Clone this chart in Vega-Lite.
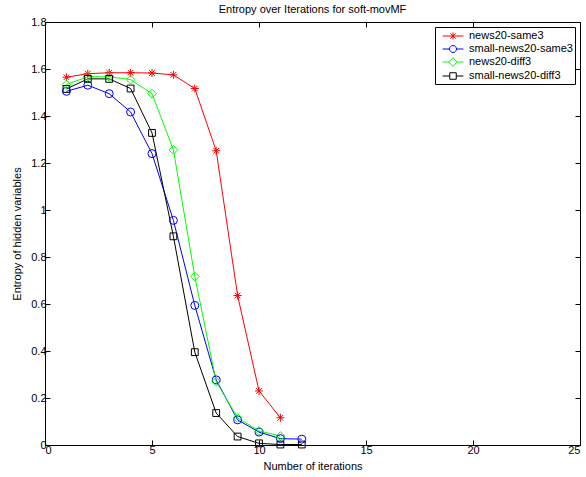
{
  "$schema": "https://vega.github.io/schema/vega-lite/v6.json",
  "width": 535,
  "height": 423,
  "autosize": "none",
  "padding": {"left": 45, "top": 22, "right": 6, "bottom": 32},
  "background": "white",
  "config": {
    "font": "Liberation Sans",
    "view": {"stroke": "black", "strokeWidth": 1},
    "axis": {
      "labelFont": "Liberation Sans", "labelFontSize": 11, "labelColor": "black",
      "titleFont": "Liberation Sans", "titleFontSize": 11, "titleFontWeight": "normal", "titleColor": "black",
      "tickColor": "black", "tickSize": -5, "domain": false, "grid": false
    },
    "legend": {
      "labelFont": "Liberation Sans", "labelFontSize": 11, "labelColor": "black"
    }
  },
  "title": {"text": "Entropy over Iterations for soft-movMF", "fontSize": 11, "fontWeight": "normal", "font": "Liberation Sans", "color": "black", "offset": 6, "dy": 5},
  "data": {"values": [
    {"series": "news20-same3", "x": 1, "y": 1.565},
    {"series": "news20-same3", "x": 2, "y": 1.58},
    {"series": "news20-same3", "x": 3, "y": 1.584},
    {"series": "news20-same3", "x": 4, "y": 1.584},
    {"series": "news20-same3", "x": 5, "y": 1.583},
    {"series": "news20-same3", "x": 6, "y": 1.575},
    {"series": "news20-same3", "x": 7, "y": 1.517},
    {"series": "news20-same3", "x": 8, "y": 1.252},
    {"series": "news20-same3", "x": 9, "y": 0.636},
    {"series": "news20-same3", "x": 10, "y": 0.23},
    {"series": "news20-same3", "x": 11, "y": 0.116},
    {"series": "small-news20-same3", "x": 1, "y": 1.505},
    {"series": "small-news20-same3", "x": 2, "y": 1.531},
    {"series": "small-news20-same3", "x": 3, "y": 1.495},
    {"series": "small-news20-same3", "x": 4, "y": 1.417},
    {"series": "small-news20-same3", "x": 5, "y": 1.24},
    {"series": "small-news20-same3", "x": 6, "y": 0.956},
    {"series": "small-news20-same3", "x": 7, "y": 0.594},
    {"series": "small-news20-same3", "x": 8, "y": 0.277},
    {"series": "small-news20-same3", "x": 9, "y": 0.107},
    {"series": "small-news20-same3", "x": 10, "y": 0.055},
    {"series": "small-news20-same3", "x": 11, "y": 0.027},
    {"series": "small-news20-same3", "x": 12, "y": 0.025},
    {"series": "news20-diff3", "x": 1, "y": 1.534},
    {"series": "news20-diff3", "x": 2, "y": 1.567},
    {"series": "news20-diff3", "x": 3, "y": 1.567},
    {"series": "news20-diff3", "x": 4, "y": 1.555},
    {"series": "news20-diff3", "x": 5, "y": 1.495},
    {"series": "news20-diff3", "x": 6, "y": 1.256},
    {"series": "news20-diff3", "x": 7, "y": 0.717},
    {"series": "news20-diff3", "x": 8, "y": 0.27},
    {"series": "news20-diff3", "x": 9, "y": 0.115},
    {"series": "news20-diff3", "x": 10, "y": 0.06},
    {"series": "news20-diff3", "x": 11, "y": 0.038},
    {"series": "small-news20-diff3", "x": 1, "y": 1.515},
    {"series": "small-news20-diff3", "x": 2, "y": 1.558},
    {"series": "small-news20-diff3", "x": 3, "y": 1.558},
    {"series": "small-news20-diff3", "x": 4, "y": 1.517},
    {"series": "small-news20-diff3", "x": 5, "y": 1.328},
    {"series": "small-news20-diff3", "x": 6, "y": 0.888},
    {"series": "small-news20-diff3", "x": 7, "y": 0.395},
    {"series": "small-news20-diff3", "x": 8, "y": 0.136},
    {"series": "small-news20-diff3", "x": 9, "y": 0.036},
    {"series": "small-news20-diff3", "x": 10, "y": 0.007},
    {"series": "small-news20-diff3", "x": 11, "y": 0.002},
    {"series": "small-news20-diff3", "x": 12, "y": 0.002}
  ]},
  "layer": [
    {
      "mark": {"type": "line", "strokeWidth": 1, "clip": true},
      "encoding": {
        "x": {"field": "x", "type": "quantitative", "scale": {"domain": [0, 25], "nice": false},
              "axis": {"orient": "bottom", "values": [0, 5, 10, 15, 20, 25], "title": "Number of iterations", "labelPadding": 4, "titlePadding": 5}},
        "y": {"field": "y", "type": "quantitative", "scale": {"domain": [0, 1.8], "nice": false},
              "axis": {"orient": "left", "values": [0, 0.2, 0.4, 0.6, 0.8, 1, 1.2, 1.4, 1.6, 1.8], "format": "~g", "title": "Entropy of hidden variables", "labelPadding": 4, "titlePadding": 8}},
        "color": {"field": "series", "type": "nominal",
                  "scale": {"domain": ["news20-same3", "small-news20-same3", "news20-diff3", "small-news20-diff3"], "range": ["#ff0000", "#0000ff", "#00ff00", "#000000"]},
                  "legend": null},
        "detail": {"field": "series"}
      }
    },
    {
      "mark": {"type": "point", "filled": false, "size": 64, "strokeWidth": 1, "opacity": 1},
      "encoding": {
        "x": {"field": "x", "type": "quantitative", "axis": {"orient": "top", "values": [0, 5, 10, 15, 20, 25], "labels": false, "title": null}},
        "y": {"field": "y", "type": "quantitative", "axis": {"orient": "right", "values": [0, 0.2, 0.4, 0.6, 0.8, 1, 1.2, 1.4, 1.6, 1.8], "labels": false, "title": null}},
        "color": {"field": "series", "type": "nominal", "legend": null},
        "shape": {"field": "series", "type": "nominal",
                  "scale": {"domain": ["news20-same3", "small-news20-same3", "news20-diff3", "small-news20-diff3"],
                            "range": ["M-1,0H1M0,-1V1M-0.7,-0.7L0.7,0.7M-0.7,0.7L0.7,-0.7", "circle", "M-1.1,0L0,-1.1L1.1,0L0,1.1Z", "M-0.85,-0.85H0.85V0.85H-0.85Z"]},
                  "legend": null}
      }
    },
    {
      "transform": [{"filter": "datum.y < -1"}],
      "mark": {"type": "point", "filled": false, "size": 169, "strokeWidth": 1, "opacity": 1},
      "encoding": {
        "x": {"field": "x", "type": "quantitative", "axis": null},
        "y": {"field": "y", "type": "quantitative", "axis": null},
        "color": {"field": "series", "type": "nominal",
                  "legend": {"orient": "top-right", "offset": 5, "title": null, "strokeColor": "black", "fillColor": "white", "padding": 2, "rowPadding": 0, "symbolOffset": 9, "labelOffset": 9, "symbolSize": 169, "symbolStrokeWidth": 1, "cornerRadius": 0}},
        "shape": {"field": "series", "type": "nominal",
                  "scale": {"domain": ["news20-same3", "small-news20-same3", "news20-diff3", "small-news20-diff3"],
                            "range": ["M-1.6,0H1.6M0,-0.55V0.55M-0.4,-0.4L0.4,0.4M-0.4,0.4L0.4,-0.4",
                                      "M-1.6,0H-0.54M0.54,0H1.6M-0.54,0A0.54,0.54 0 1,1 0.54,0A0.54,0.54 0 1,1 -0.54,0",
                                      "M-1.6,0H-0.65M0.65,0H1.6M-0.65,0L0,-0.65L0.65,0L0,0.65Z",
                                      "M-1.6,0H-0.5M0.5,0H1.6M-0.5,-0.5H0.5V0.5H-0.5Z"]},
                  "legend": {"orient": "top-right", "offset": 5, "title": null, "strokeColor": "black", "fillColor": "white", "padding": 2, "rowPadding": 0, "symbolOffset": 9, "labelOffset": 9, "symbolSize": 169, "symbolStrokeWidth": 1, "cornerRadius": 0}}
      }
    }
  ],
  "resolve": {
    "scale": {"shape": "independent"},
    "axis": {"x": "independent", "y": "independent"},
    "legend": {"color": "independent", "shape": "independent"}
  }
}
